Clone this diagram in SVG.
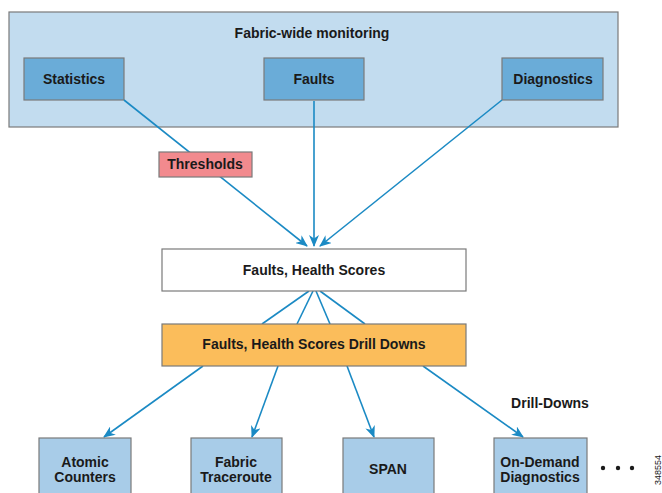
<svg xmlns="http://www.w3.org/2000/svg" width="662" height="493" viewBox="0 0 662 493">
<style>
text{font-family:"Liberation Sans",Arial,sans-serif;font-weight:bold;font-size:14px;fill:#1a1a1a;text-anchor:middle}
.box{stroke:#7a7a7a;stroke-width:1.2}
.top{fill:#6aacd8}
.bot{fill:#a8cce8}
.conn{stroke:#1b8ac4;stroke-width:1.6;fill:none}
</style>
<defs>
<marker id="ah" viewBox="0 0 12 10" refX="11" refY="5" markerWidth="12" markerHeight="10" markerUnits="userSpaceOnUse" orient="auto">
<path d="M0,0 L12,5 L0,10 L3.5,5 z" fill="#1b8ac4"/>
</marker>
</defs>
<rect x="0" y="0" width="662" height="493" fill="#ffffff"/>
<g id="monitoring">
<rect class="box" x="9" y="12" width="609" height="115" fill="#c2dcef"/>
<text x="312" y="38">Fabric-wide monitoring</text>
</g>
<g id="statistics">
<rect class="box top" x="24" y="58" width="100" height="42"/>
<text x="74" y="84">Statistics</text>
</g>
<g id="faults">
<rect class="box top" x="264" y="58" width="100" height="42"/>
<text x="314" y="84">Faults</text>
</g>
<g id="diagnostics">
<rect class="box top" x="502" y="58" width="101" height="42"/>
<text x="553" y="84">Diagnostics</text>
</g>
<g id="connectors">
<line class="conn" x1="124" y1="100" x2="307" y2="246" marker-end="url(#ah)"/>
<line class="conn" x1="314" y1="101" x2="314" y2="246" marker-end="url(#ah)"/>
<line class="conn" x1="502" y1="100" x2="320" y2="246" marker-end="url(#ah)"/>
<line class="conn" x1="309" y1="291" x2="262" y2="324"/>
<line class="conn" x1="313" y1="291" x2="297" y2="324"/>
<line class="conn" x1="316" y1="291" x2="330" y2="324"/>
<line class="conn" x1="320" y1="291" x2="365" y2="324"/>
<line class="conn" x1="203" y1="366" x2="104" y2="437" marker-end="url(#ah)"/>
<line class="conn" x1="278" y1="366" x2="252" y2="437" marker-end="url(#ah)"/>
<line class="conn" x1="347" y1="366" x2="374" y2="437" marker-end="url(#ah)"/>
<line class="conn" x1="423" y1="366" x2="523" y2="437" marker-end="url(#ah)"/>
</g>
<g id="thresholds">
<rect class="box" x="159" y="152" width="93" height="25" fill="#f28a8e"/>
<text x="205" y="169">Thresholds</text>
</g>
<g id="health">
<rect class="box" x="162" y="249" width="304" height="42" fill="#ffffff"/>
<text x="314" y="275">Faults, Health Scores</text>
</g>
<g id="drilldowns">
<rect class="box" x="162" y="324" width="304" height="42" fill="#fbbd5b"/>
<text x="314" y="349">Faults, Health Scores Drill Downs</text>
</g>
<g id="drilllabel">
<text x="550" y="408">Drill-Downs</text>
</g>
<g id="atomic">
<rect class="box bot" x="39" y="438" width="92" height="60"/>
<text x="85" y="467">Atomic</text>
<text x="85" y="482">Counters</text>
</g>
<g id="traceroute">
<rect class="box bot" x="191" y="438" width="91" height="60"/>
<text x="236" y="467">Fabric</text>
<text x="236" y="482">Traceroute</text>
</g>
<g id="span">
<rect class="box bot" x="343" y="438" width="91" height="60"/>
<text x="388" y="474">SPAN</text>
</g>
<g id="ondemand">
<rect class="box bot" x="494" y="438" width="93" height="60"/>
<text x="540" y="467">On-Demand</text>
<text x="540" y="482">Diagnostics</text>
</g>
<g id="more">
<circle cx="603" cy="468" r="2.2" fill="#1a1a1a"/>
<circle cx="618" cy="468" r="2.2" fill="#1a1a1a"/>
<circle cx="632" cy="468" r="2.2" fill="#1a1a1a"/>
</g>
<text x="0" y="0" transform="translate(661,470) rotate(-90)" style="font-size:9px;font-weight:normal">348554</text>
</svg>
